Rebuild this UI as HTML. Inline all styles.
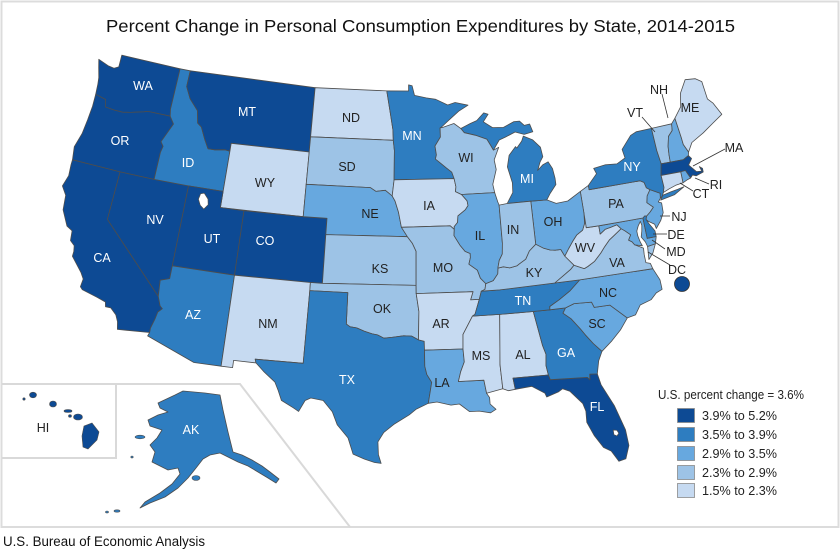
<!DOCTYPE html>
<html>
<head>
<meta charset="utf-8">
<style>
html,body{margin:0;padding:0;background:#fff;}
svg{display:block;}
text{font-family:"Liberation Sans",Arial,sans-serif;}
.lb{font-size:12.5px;text-anchor:middle;}
.w{fill:#fff;}
.d{fill:#222;}
</style>
</head>
<body>
<svg id="svg" width="840" height="550" viewBox="0 0 840 550" xmlns="http://www.w3.org/2000/svg">
<rect width="840" height="550" fill="#fff"/>
<rect x="1.5" y="1.5" width="837" height="525.5" fill="none" stroke="#dcdcdc" stroke-width="2"/>
<polyline points="2,384 240,384 350,527" fill="none" stroke="#d9d9d9" stroke-width="2"/>
<polyline points="116,384 116,458 2,458" fill="none" stroke="#d9d9d9" stroke-width="2"/>
<text x="106" y="32" font-size="17.5" fill="#111" textLength="629" lengthAdjust="spacingAndGlyphs">Percent Change in Personal Consumption Expenditures by State, 2014-2015</text>
<text x="3" y="546" font-size="13.5" fill="#111" textLength="202" lengthAdjust="spacingAndGlyphs">U.S. Bureau of Economic Analysis</text>

<g id="states" stroke="#4d4d4d" stroke-width="0.8" stroke-linejoin="round"></g>
<g id="lakes" fill="#fff" stroke="#4d4d4d" stroke-width="0.7" stroke-linejoin="round"></g>

<!-- Alaska -->
<polygon fill="#2e7dc0" stroke="#4d4d4d" stroke-width="0.8" stroke-linejoin="round" points="158,403 175,395 183,391 205,393 220,395 223,410 228,432 233,452 242,455 252,460 262,466 270,472 279,479 276,483 268,478 258,472 248,466 238,462 230,458 220,453 210,455 203,459 196,468 188,478 178,488 165,497 150,503 140,508 145,502 160,493 172,484 180,474 178,468 168,470 160,466 152,462 155,452 150,445 157,438 162,430 150,426 148,420 158,415 168,412 160,408"/>
<ellipse cx="140" cy="437" rx="5" ry="1.8" fill="#2e7dc0" stroke="#4d4d4d" stroke-width="0.6"/>
<ellipse cx="196" cy="478" rx="4" ry="2.5" fill="#2e7dc0" stroke="#4d4d4d" stroke-width="0.6"/>
<ellipse cx="117" cy="511" rx="3" ry="1.2" fill="#2e7dc0" stroke="#4d4d4d" stroke-width="0.6"/>
<ellipse cx="107" cy="512" rx="1.5" ry="1" fill="#2e7dc0" stroke="#4d4d4d" stroke-width="0.6"/>
<ellipse cx="132" cy="457" rx="1.2" ry="1" fill="#2e7dc0" stroke="#4d4d4d" stroke-width="0.6"/>

<!-- Hawaii -->
<g fill="#0d4a94" stroke="#4d4d4d" stroke-width="0.6">
<ellipse cx="33" cy="395" rx="3.5" ry="2.8"/>
<ellipse cx="24" cy="399" rx="1.2" ry="1.2"/>
<ellipse cx="53" cy="404" rx="3.5" ry="3"/>
<ellipse cx="68" cy="411" rx="4" ry="1.5"/>
<ellipse cx="70" cy="416" rx="1.5" ry="1.3"/>
<ellipse cx="78" cy="417" rx="4.5" ry="3"/>
<path d="M84,426 L92,423 L99,432 L97,440 L88,449 L83,447 L82,436 Z"/>
</g>

<circle cx="682" cy="284" r="7.5" fill="#0d4a94" stroke="#333" stroke-width="0.8"/>

<!-- leader lines -->
<g stroke="#333" stroke-width="0.8" fill="none">
<line x1="662" y1="94" x2="668" y2="118"/>
<line x1="642" y1="117" x2="655" y2="132"/>
<line x1="725" y1="149" x2="693" y2="166"/>
<line x1="709" y1="184" x2="695" y2="178"/>
<line x1="693" y1="191" x2="680" y2="183"/>
<line x1="670" y1="216" x2="660" y2="216"/>
<line x1="667" y1="234" x2="653" y2="234"/>
<line x1="665" y1="249" x2="652" y2="240"/>
<line x1="670" y1="265" x2="648" y2="252"/>
</g>

<!-- labels -->
<g class="lb">
<text class="w" x="143" y="90">WA</text>
<text class="w" x="120" y="145">OR</text>
<text class="w" x="247" y="116">MT</text>
<text class="w" x="188" y="167">ID</text>
<text class="d" x="265" y="187">WY</text>
<text class="w" x="155" y="224">NV</text>
<text class="w" x="102" y="262">CA</text>
<text class="w" x="212" y="243">UT</text>
<text class="w" x="265" y="245">CO</text>
<text class="w" x="193" y="319">AZ</text>
<text class="d" x="268" y="328">NM</text>
<text class="w" x="347" y="384">TX</text>
<text class="d" x="382" y="313">OK</text>
<text class="d" x="351" y="122">ND</text>
<text class="d" x="347" y="171">SD</text>
<text class="w" x="412" y="140">MN</text>
<text class="d" x="466" y="162">WI</text>
<text class="w" x="527" y="183">MI</text>
<text class="d" x="370" y="218">NE</text>
<text class="d" x="380" y="273">KS</text>
<text class="d" x="429" y="210">IA</text>
<text class="d" x="480" y="240">IL</text>
<text class="d" x="513" y="234">IN</text>
<text class="d" x="553" y="226">OH</text>
<text class="d" x="443" y="272">MO</text>
<text class="d" x="534" y="277">KY</text>
<text class="w" x="523" y="305">TN</text>
<text class="d" x="441" y="328">AR</text>
<text class="d" x="481" y="360">MS</text>
<text class="d" x="523" y="359">AL</text>
<text class="w" x="566" y="357">GA</text>
<text class="d" x="442" y="387">LA</text>
<text class="d" x="608" y="297">NC</text>
<text class="d" x="597" y="328">SC</text>
<text class="w" x="597" y="411">FL</text>
<text class="d" x="616" y="208">PA</text>
<text class="d" x="585" y="252">WV</text>
<text class="d" x="617" y="267">VA</text>
<text class="w" x="632" y="171">NY</text>
<text class="d" x="690" y="112">ME</text>
<text class="d" x="659" y="94">NH</text>
<text class="d" x="635" y="117">VT</text>
<text class="d" x="734" y="152">MA</text>
<text class="d" x="716" y="189">RI</text>
<text class="d" x="701" y="198">CT</text>
<text class="d" x="679" y="221">NJ</text>
<text class="d" x="676" y="239">DE</text>
<text class="d" x="676" y="256">MD</text>
<text class="d" x="677" y="274">DC</text>
<text class="d" x="43" y="432">HI</text>
<text class="w" x="191" y="434">AK</text>
</g>

<!-- legend -->
<text x="658" y="399" font-size="12.5" fill="#222" textLength="146" lengthAdjust="spacingAndGlyphs">U.S. percent change = 3.6%</text>
<g stroke="#8a8a8a" stroke-width="0.8">
<rect x="677.5" y="408.5" width="17" height="14" fill="#0d4a94"/>
<rect x="677.5" y="427.5" width="17" height="14" fill="#2e7dc0"/>
<rect x="677.5" y="446.5" width="17" height="14" fill="#67a8df"/>
<rect x="677.5" y="465.5" width="17" height="14" fill="#9dc3e6"/>
<rect x="677.5" y="483.5" width="17" height="14" fill="#c6daf1"/>
</g>
<g font-size="12.5" fill="#222">
<text x="702" y="420" textLength="75" lengthAdjust="spacingAndGlyphs">3.9% to 5.2%</text>
<text x="702" y="439" textLength="75" lengthAdjust="spacingAndGlyphs">3.5% to 3.9%</text>
<text x="702" y="458" textLength="75" lengthAdjust="spacingAndGlyphs">2.9% to 3.5%</text>
<text x="702" y="477" textLength="75" lengthAdjust="spacingAndGlyphs">2.3% to 2.9%</text>
<text x="702" y="495" textLength="75" lengthAdjust="spacingAndGlyphs">1.5% to 2.3%</text>
</g>
</svg>

<script>
(function(){
var C=['#0d4a94','#2e7dc0','#67a8df','#9dc3e6','#c6daf1'];
var S=[
[0,"-124.72,48.38 -123.7,48.15 -123.1,48.1 -122.7,48.25 -122.75,49.0 -117.04,49.0 -117.04,46.43 -116.92,46.0 -119.0,46.0 -119.3,45.93 -120.5,45.7 -121.2,45.6 -122.0,45.6 -122.8,45.65 -123.0,46.1 -124.0,46.25 -124.1,46.9 -124.2,47.3 -124.5,47.9"],
[0,"-124.0,46.25 -123.0,46.1 -122.8,45.65 -122.0,45.6 -121.2,45.6 -120.5,45.7 -119.3,45.93 -119.0,46.0 -116.92,46.0 -116.47,45.57 -116.75,45.1 -117.2,44.35 -116.93,44.1 -117.03,43.7 -117.03,42.0 -120.0,42.0 -124.21,42.0 -124.4,42.8 -124.1,43.7 -124.0,44.6 -123.95,45.5"],
[0,"-124.21,42.0 -120.0,42.0 -120.0,39.0 -114.63,35.0 -114.35,34.45 -114.13,34.3 -114.43,34.05 -114.53,33.6 -114.72,33.0 -114.72,32.72 -117.12,32.53 -117.25,33.0 -117.5,33.4 -118.0,33.75 -118.4,33.75 -118.5,34.03 -119.2,34.2 -120.45,34.45 -120.65,34.6 -120.6,35.1 -120.9,35.45 -121.9,36.3 -121.9,36.6 -122.0,36.95 -122.4,37.2 -122.5,37.8 -123.0,38.0 -123.7,38.9 -123.85,39.8 -124.35,40.3 -124.1,41.0 -124.2,41.7"],
[0,"-120.0,42.0 -117.03,42.0 -114.04,42.0 -114.04,36.2 -114.75,36.0 -114.63,35.0 -120.0,39.0"],
[1,"-117.04,49.0 -116.05,49.0 -116.05,48.0 -115.5,47.3 -114.6,46.65 -114.35,45.9 -113.95,45.7 -113.45,45.0 -113.0,44.45 -112.4,44.45 -111.5,44.55 -111.05,44.5 -111.05,42.0 -114.04,42.0 -117.03,42.0 -117.03,43.7 -116.93,44.1 -117.2,44.35 -116.75,45.1 -116.47,45.57 -116.92,46.0 -117.04,46.43"],
[0,"-116.05,49.0 -104.05,49.0 -104.05,45.0 -111.05,45.0 -111.05,44.5 -111.5,44.55 -112.4,44.45 -113.0,44.45 -113.45,45.0 -113.95,45.7 -114.35,45.9 -114.6,46.65 -115.5,47.3 -116.05,48.0"],
[4,"-111.05,45.0 -104.05,45.0 -104.05,43.0 -104.05,41.0 -111.05,41.0 -111.05,42.0 -111.05,44.5"],
[0,"-114.04,42.0 -111.05,42.0 -111.05,41.0 -109.05,41.0 -109.05,37.0 -114.04,37.0"],
[0,"-109.05,41.0 -104.05,41.0 -102.05,41.0 -102.05,40.0 -102.05,37.0 -103.0,37.0 -109.05,37.0"],
[1,"-114.04,37.0 -109.05,37.0 -109.05,31.33 -111.07,31.33 -114.81,32.49 -114.72,32.72 -114.72,33.0 -114.53,33.6 -114.43,34.05 -114.13,34.3 -114.35,34.45 -114.63,35.0 -114.75,36.0 -114.04,36.2"],
[4,"-109.05,37.0 -103.0,37.0 -103.0,36.5 -103.05,32.0 -106.62,32.0 -106.53,31.78 -108.2,31.78 -108.2,31.33 -109.05,31.33"],
[4,"-104.05,49.0 -97.23,49.0 -96.85,47.6 -96.6,46.6 -96.56,45.94 -104.05,45.94"],
[3,"-104.05,45.94 -96.56,45.94 -96.45,45.3 -96.45,43.5 -96.6,42.5 -97.2,42.85 -98.0,42.77 -98.5,43.0 -104.05,43.0 -104.05,45.0"],
[2,"-104.05,43.0 -98.5,43.0 -98.0,42.77 -97.2,42.85 -96.6,42.5 -96.35,42.2 -96.05,41.5 -95.8,40.58 -95.3,40.0 -102.05,40.0 -102.05,41.0 -104.05,41.0"],
[3,"-102.05,40.0 -95.3,40.0 -94.9,39.6 -94.6,39.1 -94.62,37.0 -102.05,37.0"],
[3,"-103.0,37.0 -102.05,37.0 -94.62,37.0 -94.62,36.5 -94.43,35.4 -94.48,33.64 -95.0,33.88 -95.6,33.9 -96.5,33.8 -97.1,33.75 -97.6,33.95 -98.0,34.0 -98.6,34.15 -99.2,34.35 -99.7,34.4 -100.0,34.56 -100.0,36.5 -103.0,36.5"],
[1,"-103.0,36.5 -100.0,36.5 -100.0,34.56 -99.7,34.4 -99.2,34.35 -98.6,34.15 -98.0,34.0 -97.6,33.95 -97.1,33.75 -96.5,33.8 -95.6,33.9 -95.0,33.88 -94.48,33.64 -94.05,33.55 -94.04,33.0 -94.04,32.0 -93.9,31.5 -93.55,31.0 -93.7,30.3 -93.83,29.7 -94.7,29.35 -95.2,29.0 -96.3,28.4 -97.0,27.9 -97.4,27.3 -97.35,26.5 -97.15,25.95 -97.6,26.0 -98.3,26.2 -99.1,26.5 -99.5,27.5 -100.3,28.3 -100.7,29.1 -101.4,29.77 -102.3,29.88 -102.7,29.7 -103.1,29.0 -103.5,29.2 -104.4,29.6 -104.7,30.2 -105.0,30.7 -105.9,31.3 -106.53,31.78 -106.62,32.0 -103.05,32.0"],
[1,"-97.23,49.0 -95.15,49.0 -95.15,49.38 -94.82,49.32 -94.6,48.72 -93.5,48.55 -92.6,48.45 -91.5,48.07 -90.8,48.2 -89.6,47.99 -90.5,47.65 -91.5,47.1 -92.1,46.75 -92.29,46.66 -92.29,46.1 -92.8,45.55 -92.7,45.0 -92.8,44.75 -92.3,44.45 -91.9,44.2 -91.4,43.9 -91.22,43.5 -96.45,43.5 -96.45,45.3 -96.56,45.94 -96.6,46.6 -96.85,47.6"],
[4,"-96.45,43.5 -91.22,43.5 -91.1,43.0 -91.15,42.7 -90.65,42.5 -90.2,42.1 -90.15,41.8 -90.4,41.55 -91.05,41.2 -91.1,40.8 -91.4,40.55 -91.4,40.38 -91.73,40.61 -95.8,40.58 -96.05,41.5 -96.35,42.2 -96.6,42.5"],
[3,"-95.8,40.58 -91.73,40.61 -91.4,40.38 -91.45,40.0 -91.0,39.4 -90.6,39.0 -90.2,38.85 -90.2,38.6 -90.35,38.2 -89.7,37.8 -89.5,37.3 -89.1,36.95 -89.2,36.6 -89.5,36.5 -89.7,36.0 -90.38,36.0 -90.15,36.5 -94.62,36.5 -94.62,37.0 -94.6,39.1 -94.9,39.6 -95.3,40.0"],
[4,"-94.62,36.5 -90.15,36.5 -90.38,36.0 -89.7,36.0 -90.1,35.1 -90.3,35.0 -90.6,34.6 -91.1,33.9 -91.15,33.0 -94.04,33.0 -94.05,33.55 -94.48,33.64 -94.43,35.4"],
[2,"-94.04,33.0 -91.15,33.0 -91.1,32.2 -91.4,31.6 -91.6,31.0 -89.73,31.0 -89.6,30.18 -89.4,29.9 -89.4,29.5 -89.0,29.15 -89.4,28.95 -90.2,29.1 -90.9,29.1 -91.6,29.6 -92.2,29.55 -93.2,29.77 -93.83,29.7 -93.7,30.3 -93.55,31.0 -93.9,31.5 -94.04,32.0"],
[4,"-90.3,35.0 -88.2,35.0 -88.47,31.9 -88.4,30.4 -89.6,30.18 -89.73,31.0 -91.6,31.0 -91.4,31.6 -91.1,32.2 -91.15,33.0 -91.1,33.9 -90.6,34.6"],
[4,"-88.2,35.0 -85.6,35.0 -85.18,32.85 -85.0,32.3 -85.1,31.6 -85.0,31.0 -87.6,31.0 -87.5,30.3 -88.0,30.25 -88.4,30.4 -88.47,31.9"],
[0,"-87.6,31.0 -85.0,31.0 -84.9,30.7 -82.2,30.57 -82.05,30.4 -82.0,30.75 -81.45,30.7 -81.3,30.0 -80.6,28.6 -80.1,27.0 -80.05,26.0 -80.4,25.2 -80.9,25.1 -81.3,25.8 -81.8,26.1 -82.3,26.9 -82.7,27.8 -82.65,28.5 -82.8,29.0 -83.6,29.85 -84.1,30.05 -84.4,29.9 -85.3,29.65 -85.4,29.9 -86.3,30.4 -87.5,30.3"],
[1,"-85.6,35.0 -84.32,35.0 -83.1,35.0 -83.35,34.7 -82.8,34.3 -82.2,33.6 -81.9,33.2 -81.4,32.6 -80.85,32.05 -81.2,31.5 -81.45,30.7 -82.0,30.75 -82.05,30.4 -82.2,30.57 -84.9,30.7 -85.0,31.0 -85.1,31.6 -85.0,32.3 -85.18,32.85"],
[2,"-83.1,35.0 -82.4,35.2 -81.05,35.15 -80.9,34.8 -79.7,34.8 -78.55,33.85 -79.2,33.2 -80.0,32.6 -80.85,32.05 -81.4,32.6 -81.9,33.2 -82.2,33.6 -82.8,34.3 -83.35,34.7"],
[2,"-84.32,35.0 -84.3,35.2 -83.5,35.55 -82.6,36.0 -81.7,36.6 -75.87,36.55 -75.5,35.8 -75.5,35.2 -76.0,35.05 -76.5,34.7 -77.4,34.5 -77.9,33.95 -78.55,33.85 -79.7,34.8 -80.9,34.8 -81.05,35.15 -82.4,35.2 -83.1,35.0"],
[1,"-90.3,35.0 -88.2,35.0 -85.6,35.0 -84.32,35.0 -84.3,35.2 -83.5,35.55 -82.6,36.0 -81.7,36.6 -83.68,36.6 -88.05,36.5 -89.5,36.5 -89.7,36.0 -90.1,35.1"],
[3,"-89.5,36.5 -89.2,36.6 -89.1,36.95 -88.5,37.1 -88.1,37.5 -88.05,37.85 -87.6,37.9 -87.1,37.8 -86.5,37.9 -86.3,38.0 -85.76,38.25 -85.4,38.73 -84.82,39.1 -84.2,38.8 -83.7,38.65 -83.3,38.6 -82.85,38.6 -82.6,38.17 -81.97,37.54 -82.3,37.3 -82.9,37.0 -83.68,36.6 -88.05,36.5"],
[3,"-83.68,36.6 -81.7,36.6 -75.87,36.55 -75.97,36.9 -76.3,37.0 -76.3,37.5 -76.25,37.9 -76.9,38.2 -77.05,38.4 -77.3,38.55 -77.05,38.85 -77.45,39.15 -77.72,39.32 -78.35,39.0 -78.85,38.75 -79.3,38.4 -79.7,38.05 -80.3,37.6 -80.9,37.35 -81.2,37.25 -81.97,37.54 -82.3,37.3 -82.9,37.0"],
[3,"-75.24,38.03 -75.9,37.95 -76.02,37.15 -75.6,37.5"],
[4,"-77.72,39.32 -78.0,39.6 -78.5,39.52 -79.0,39.45 -79.48,39.2 -79.48,39.72 -80.52,39.72 -80.52,40.64 -80.6,40.0 -80.85,39.6 -81.4,39.35 -81.8,39.0 -82.2,38.6 -82.6,38.17 -81.97,37.54 -81.2,37.25 -80.9,37.35 -80.3,37.6 -79.7,38.05 -79.3,38.4 -78.85,38.75 -78.35,39.0"],
[2,"-79.48,39.72 -75.79,39.72 -75.79,38.45 -75.05,38.45 -75.24,38.03 -75.9,37.95 -76.0,38.25 -76.25,38.6 -76.1,38.95 -76.0,39.3 -76.05,39.55 -76.3,39.3 -76.5,39.0 -76.5,38.7 -76.4,38.3 -76.3,38.05 -76.9,38.2 -77.05,38.4 -77.3,38.55 -77.05,38.85 -77.45,39.15 -77.72,39.32 -78.0,39.6 -78.5,39.52 -79.0,39.45 -79.48,39.2"],
[1,"-75.79,39.72 -75.6,39.83 -75.45,39.8 -75.55,39.6 -75.4,39.3 -75.05,38.8 -75.05,38.45 -75.79,38.45"],
[2,"-74.7,41.35 -73.92,41.0 -74.0,40.7 -74.25,40.5 -74.0,40.4 -74.05,39.8 -74.4,39.35 -74.9,38.93 -74.95,39.2 -75.4,39.45 -75.55,39.6 -75.45,39.8 -75.1,40.0 -74.75,40.25 -75.2,40.6 -75.05,41.0"],
[3,"-80.52,41.98 -79.76,42.27 -79.76,42.0 -75.36,42.0 -75.05,41.85 -74.95,41.5 -74.7,41.35 -75.05,41.0 -75.2,40.6 -74.75,40.25 -75.1,40.0 -75.45,39.8 -75.6,39.83 -75.79,39.72 -79.48,39.72 -80.52,39.72 -80.52,40.64"],
[2,"-84.81,41.76 -83.45,41.73 -82.7,41.45 -81.7,41.5 -80.52,41.98 -80.52,40.64 -80.6,40.0 -80.85,39.6 -81.4,39.35 -81.8,39.0 -82.2,38.6 -82.6,38.17 -82.85,38.6 -83.3,38.6 -83.7,38.65 -84.2,38.8 -84.82,39.1"],
[1,"-79.76,42.0 -79.76,42.27 -78.9,42.9 -79.05,43.25 -78.0,43.35 -77.0,43.28 -76.2,43.55 -76.3,44.1 -75.3,44.85 -74.75,45.0 -73.35,45.01 -73.35,43.6 -73.25,42.75 -73.5,42.05 -73.5,41.3 -73.66,41.0 -73.8,40.8 -74.0,40.7 -73.92,41.0 -74.7,41.35 -74.95,41.5 -75.05,41.85 -75.36,42.0"],
[1,"-74.02,40.58 -72.8,40.72 -71.86,41.07 -72.4,41.0 -73.0,40.95 -73.75,40.85"],
[3,"-73.35,45.01 -71.5,45.01 -71.6,44.6 -72.05,44.3 -72.3,43.7 -72.4,43.2 -72.46,42.73 -73.25,42.75 -73.35,43.6"],
[2,"-71.5,45.01 -71.08,45.3 -70.98,44.0 -70.97,43.6 -70.7,43.08 -70.8,42.87 -71.3,42.7 -72.46,42.73 -72.4,43.2 -72.3,43.7 -72.05,44.3 -71.6,44.6"],
[4,"-71.08,45.3 -70.3,45.9 -70.0,46.7 -69.23,47.45 -68.3,47.35 -67.8,47.07 -67.78,45.95 -67.4,45.6 -66.95,44.8 -68.0,44.4 -69.0,44.0 -70.2,43.6 -70.7,43.08 -70.97,43.6 -70.98,44.0"],
[0,"-73.5,42.05 -73.25,42.75 -72.46,42.73 -71.3,42.7 -70.8,42.87 -70.6,42.65 -71.0,42.3 -70.5,41.8 -70.05,41.75 -70.15,42.05 -69.93,41.9 -69.95,41.67 -70.6,41.55 -70.9,41.65 -71.12,41.5 -71.38,42.02 -71.8,42.01"],
[2,"-71.8,42.01 -71.38,42.02 -71.12,41.5 -71.4,41.45 -71.85,41.32"],
[4,"-73.5,42.05 -71.8,42.01 -71.85,41.32 -72.5,41.27 -73.1,41.15 -73.66,41.0 -73.5,41.3"],
[1,"-90.4,46.57 -89.5,46.85 -88.9,47.0 -88.2,47.45 -87.8,47.35 -88.3,46.9 -87.5,46.5 -86.5,46.45 -85.5,46.75 -85.0,46.75 -84.6,46.45 -84.1,46.5 -83.9,46.0 -84.7,45.9 -85.5,46.1 -86.4,45.85 -87.0,45.7 -87.6,45.1 -87.8,45.4 -88.1,45.8 -89.1,46.1 -90.1,46.3"],
[1,"-86.82,41.76 -84.81,41.76 -83.45,41.73 -83.1,42.1 -82.5,42.6 -82.5,43.0 -82.6,43.6 -82.9,44.05 -83.4,43.9 -83.9,43.6 -83.6,44.1 -83.3,44.4 -83.4,45.0 -84.0,45.5 -84.8,45.8 -85.0,45.5 -85.5,45.1 -85.6,45.2 -86.25,44.7 -86.5,44.0 -86.2,43.0 -86.25,42.4"],
[3,"-92.29,46.66 -92.0,46.7 -91.0,46.9 -90.4,46.57 -90.1,46.3 -89.1,46.1 -88.1,45.8 -87.8,45.4 -87.6,45.1 -87.1,45.25 -87.6,44.5 -87.5,43.9 -87.9,43.0 -87.8,42.49 -90.65,42.5 -91.15,42.7 -91.1,43.0 -91.22,43.5 -91.4,43.9 -91.9,44.2 -92.3,44.45 -92.8,44.75 -92.7,45.0 -92.8,45.55 -92.29,46.1"],
[2,"-90.65,42.5 -87.8,42.49 -87.6,41.9 -87.52,41.7 -87.52,39.35 -87.6,38.7 -87.9,38.3 -88.05,37.85 -88.1,37.5 -88.5,37.1 -89.1,36.95 -89.5,37.3 -89.7,37.8 -90.35,38.2 -90.2,38.6 -90.2,38.85 -90.6,39.0 -91.0,39.4 -91.45,40.0 -91.4,40.38 -91.4,40.55 -91.1,40.8 -91.05,41.2 -90.4,41.55 -90.15,41.8 -90.2,42.1"],
[3,"-87.52,41.7 -86.82,41.76 -84.81,41.76 -84.82,39.1 -85.4,38.73 -85.76,38.25 -86.3,38.0 -86.5,37.9 -87.1,37.8 -87.6,37.9 -88.05,37.85 -87.9,38.3 -87.6,38.7 -87.52,39.35"]
];
var LK=["-112.9,41.65 -112.6,41.72 -112.2,41.4 -112.1,41.05 -112.4,40.75 -112.75,40.95 -113.0,41.3","-80.95,27.1 -80.7,27.05 -80.6,26.85 -80.75,26.7 -80.95,26.8"];
var L=[[-122.75,49.0,125,53],[-104.05,49.0,314,85],[-97.23,49.0,385,90],[-95.15,49.38,407,83],[-104.05,45.94,309,137],[-104.05,43.0,307,185],[-124.21,42.0,73,159],[-120.0,42.0,120,172],[-114.04,42.0,188,187],[-111.05,42.0,223,192],[-120.0,39.0,108,219],[-114.63,35.0,158,295],[-114.04,37.0,173,267],[-109.05,37.0,235,276],[-117.12,32.53,117,331],[-114.72,32.72,150,333],[-106.62,32.0,255,362],[-103.05,32.0,304,363],[-94.05,33.6,423,343],[-97.15,25.95,377,465],[-80.9,25.1,623,462],[-66.95,44.8,717,120],[-69.23,47.45,690,81],[-81.45,30.7,596,363],[-78.55,33.85,630,318]];
var R=Math.PI/180;
function alb(lon,lat,l0,p1,p2){var s1=Math.sin(p1*R),s2=Math.sin(p2*R),n=(s1+s2)/2,c=Math.cos(p1*R);var C2=c*c+2*n*s1;var r=Math.sqrt(Math.max(0,C2-2*n*Math.sin(lat*R)))/n;var t=n*(lon-l0)*R;return [r*Math.sin(t),-r*Math.cos(t)];}
function det(m){return m[0][0]*(m[1][1]*m[2][2]-m[1][2]*m[2][1])-m[0][1]*(m[1][0]*m[2][2]-m[1][2]*m[2][0])+m[0][2]*(m[1][0]*m[2][1]-m[1][1]*m[2][0]);}
function solve(M,b){var d=det(M),r=[];for(var k=0;k<3;k++){var m=M.map(function(row,i){var rr=row.slice();rr[k]=b[i];return rr;});r.push(det(m)/d);}return r;}
function fit(l0,p1,p2){var M=[[0,0,0],[0,0,0],[0,0,0]],bx=[0,0,0],by=[0,0,0],P=[];
for(var i=0;i<L.length;i++){var q=alb(L[i][0],L[i][1],l0,p1,p2),v=[q[0],q[1],1];P.push(v);for(var a=0;a<3;a++){for(var b=0;b<3;b++)M[a][b]+=v[a]*v[b];bx[a]+=v[a]*L[i][2];by[a]+=v[a]*L[i][3];}}
var A=solve(M,bx),B=solve(M,by),e=0;for(i=0;i<L.length;i++){var v2=P[i];var px=A[0]*v2[0]+A[1]*v2[1]+A[2],py=B[0]*v2[0]+B[1]*v2[1]+B[2];e+=(px-L[i][2])*(px-L[i][2])+(py-L[i][3])*(py-L[i][3]);}
return {e:e,A:A,B:B,l0:l0,p1:p1,p2:p2};}
var best=null,P1=[15,20,25,29.5,33],P2=[40,45.5,50,55,60];
for(var l0=-110;l0<=-84;l0+=0.5){for(var i=0;i<P1.length;i++)for(var j=0;j<P2.length;j++){var f=fit(l0,P1[i],P2[j]);if(isFinite(f.e)&&(!best||f.e<best.e))best=f;}}
function pr(lon,lat){var q=alb(lon,lat,best.l0,best.p1,best.p2);return [best.A[0]*q[0]+best.A[1]*q[1]+best.A[2],best.B[0]*q[0]+best.B[1]*q[1]+best.B[2]];}
function pth(str){return 'M'+str.split(' ').map(function(s){var a=s.split(',');var p=pr(+a[0],+a[1]);return p[0].toFixed(1)+','+p[1].toFixed(1);}).join('L')+'Z';}
var out='';
for(var k=0;k<S.length;k++){out+='<path fill="'+C[S[k][0]]+'" d="'+pth(S[k][1])+'"/>';}
document.getElementById('states').innerHTML=out;
var lo='';for(k=0;k<LK.length;k++){lo+='<path d="'+pth(LK[k])+'"/>';}
document.getElementById('lakes').innerHTML=lo;
})();
</script>
</body>
</html>
